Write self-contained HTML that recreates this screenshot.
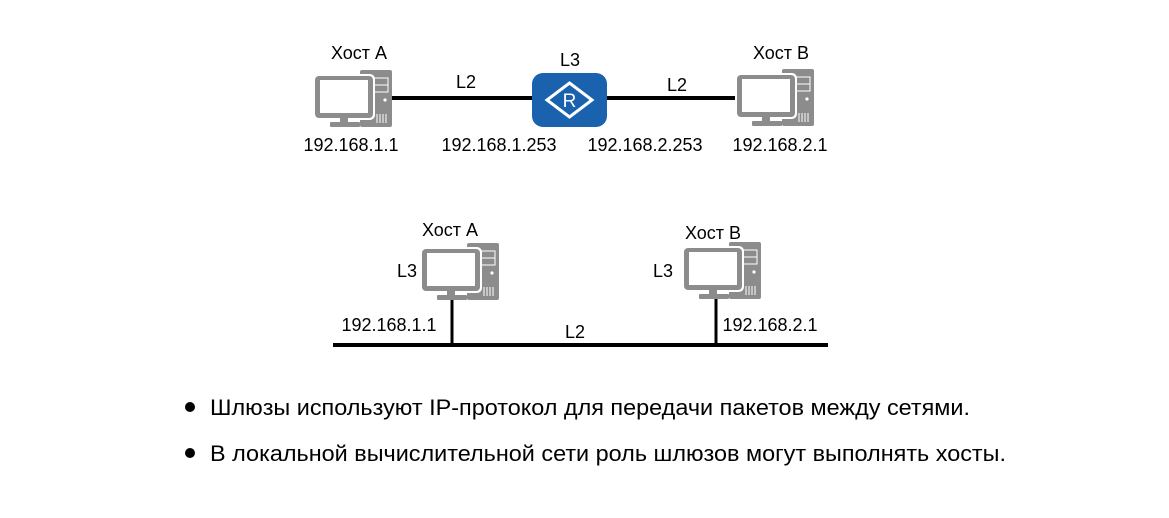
<!DOCTYPE html>
<html><head><meta charset="utf-8"><style>
body{margin:0;background:#fff;}
svg text{font-family:"Liberation Sans",sans-serif;fill:#000;}
</style></head><body>
<svg width="1169" height="513" viewBox="0 0 1169 513" xmlns="http://www.w3.org/2000/svg">
<defs>
<g id="pc">
  <rect x="45" y="0" width="32" height="57" rx="2" fill="#8c8c8c"/>
  <rect x="58" y="8" width="15" height="7" fill="none" stroke="#fff" stroke-width="1"/>
  <rect x="58" y="15" width="15" height="7" fill="none" stroke="#fff" stroke-width="1"/>
  <circle cx="70" cy="30" r="1.6" fill="#fff"/>
  <g stroke="#fff" stroke-width="1"><line x1="62" y1="44" x2="62" y2="53"/><line x1="65" y1="44" x2="65" y2="53"/><line x1="68" y1="44" x2="68" y2="53"/><line x1="71" y1="44" x2="71" y2="53"/></g>
  <rect x="-2" y="4" width="62" height="46" rx="5" fill="#fff"/>
  <rect x="0" y="6" width="58" height="42" rx="4" fill="#8c8c8c"/>
  <rect x="5" y="10" width="48" height="33" fill="#fff"/>
  <rect x="25" y="48" width="8" height="5" fill="#8c8c8c"/>
  <rect x="15" y="52" width="30" height="5" rx="1" fill="#8c8c8c"/>
</g>
</defs>
<line x1="390" y1="98" x2="535" y2="98" stroke="#000" stroke-width="4"/>
<line x1="605" y1="98" x2="742" y2="98" stroke="#000" stroke-width="4"/>
<use href="#pc" x="315" y="70"/>
<use href="#pc" x="737" y="69"/>
<rect x="532" y="73" width="75" height="54" rx="11" fill="#1a62ad"/>
<polygon points="569.5,83 592,100 569.5,117 547,100" fill="none" stroke="#fff" stroke-width="3"/>
<text x="569.5" y="107" font-size="19" text-anchor="middle" style="fill:#fff">R</text>
<g font-size="18" text-anchor="middle">
<text x="359" y="59">Хост A</text>
<text x="781" y="59">Хост B</text>
<text x="570" y="66">L3</text>
<text x="466" y="88">L2</text>
<text x="677" y="91">L2</text>
<text x="351" y="151">192.168.1.1</text>
<text x="499" y="151">192.168.1.253</text>
<text x="645" y="151">192.168.2.253</text>
<text x="780" y="151">192.168.2.1</text>
</g>
<line x1="333" y1="345" x2="828" y2="345" stroke="#000" stroke-width="4"/>
<line x1="452" y1="298" x2="452" y2="345" stroke="#000" stroke-width="3"/>
<line x1="716" y1="298" x2="716" y2="345" stroke="#000" stroke-width="3"/>
<use href="#pc" x="422" y="243"/>
<use href="#pc" x="684" y="242"/>
<g font-size="18" text-anchor="middle">
<text x="450" y="236">Хост A</text>
<text x="713" y="239">Хост B</text>
<text x="407" y="277">L3</text>
<text x="663" y="277">L3</text>
<text x="389" y="331">192.168.1.1</text>
<text x="770" y="331">192.168.2.1</text>
<text x="575" y="338">L2</text>
</g>
<circle cx="190" cy="407" r="5" fill="#000"/>
<text x="210" y="415" font-size="22" textLength="760" lengthAdjust="spacingAndGlyphs">Шлюзы используют IP-протокол для передачи пакетов между сетями.</text>
<circle cx="190" cy="453" r="5" fill="#000"/>
<text x="210" y="461" font-size="22" textLength="796" lengthAdjust="spacingAndGlyphs">В локальной вычислительной сети роль шлюзов могут выполнять хосты.</text>
</svg>
</body></html>
